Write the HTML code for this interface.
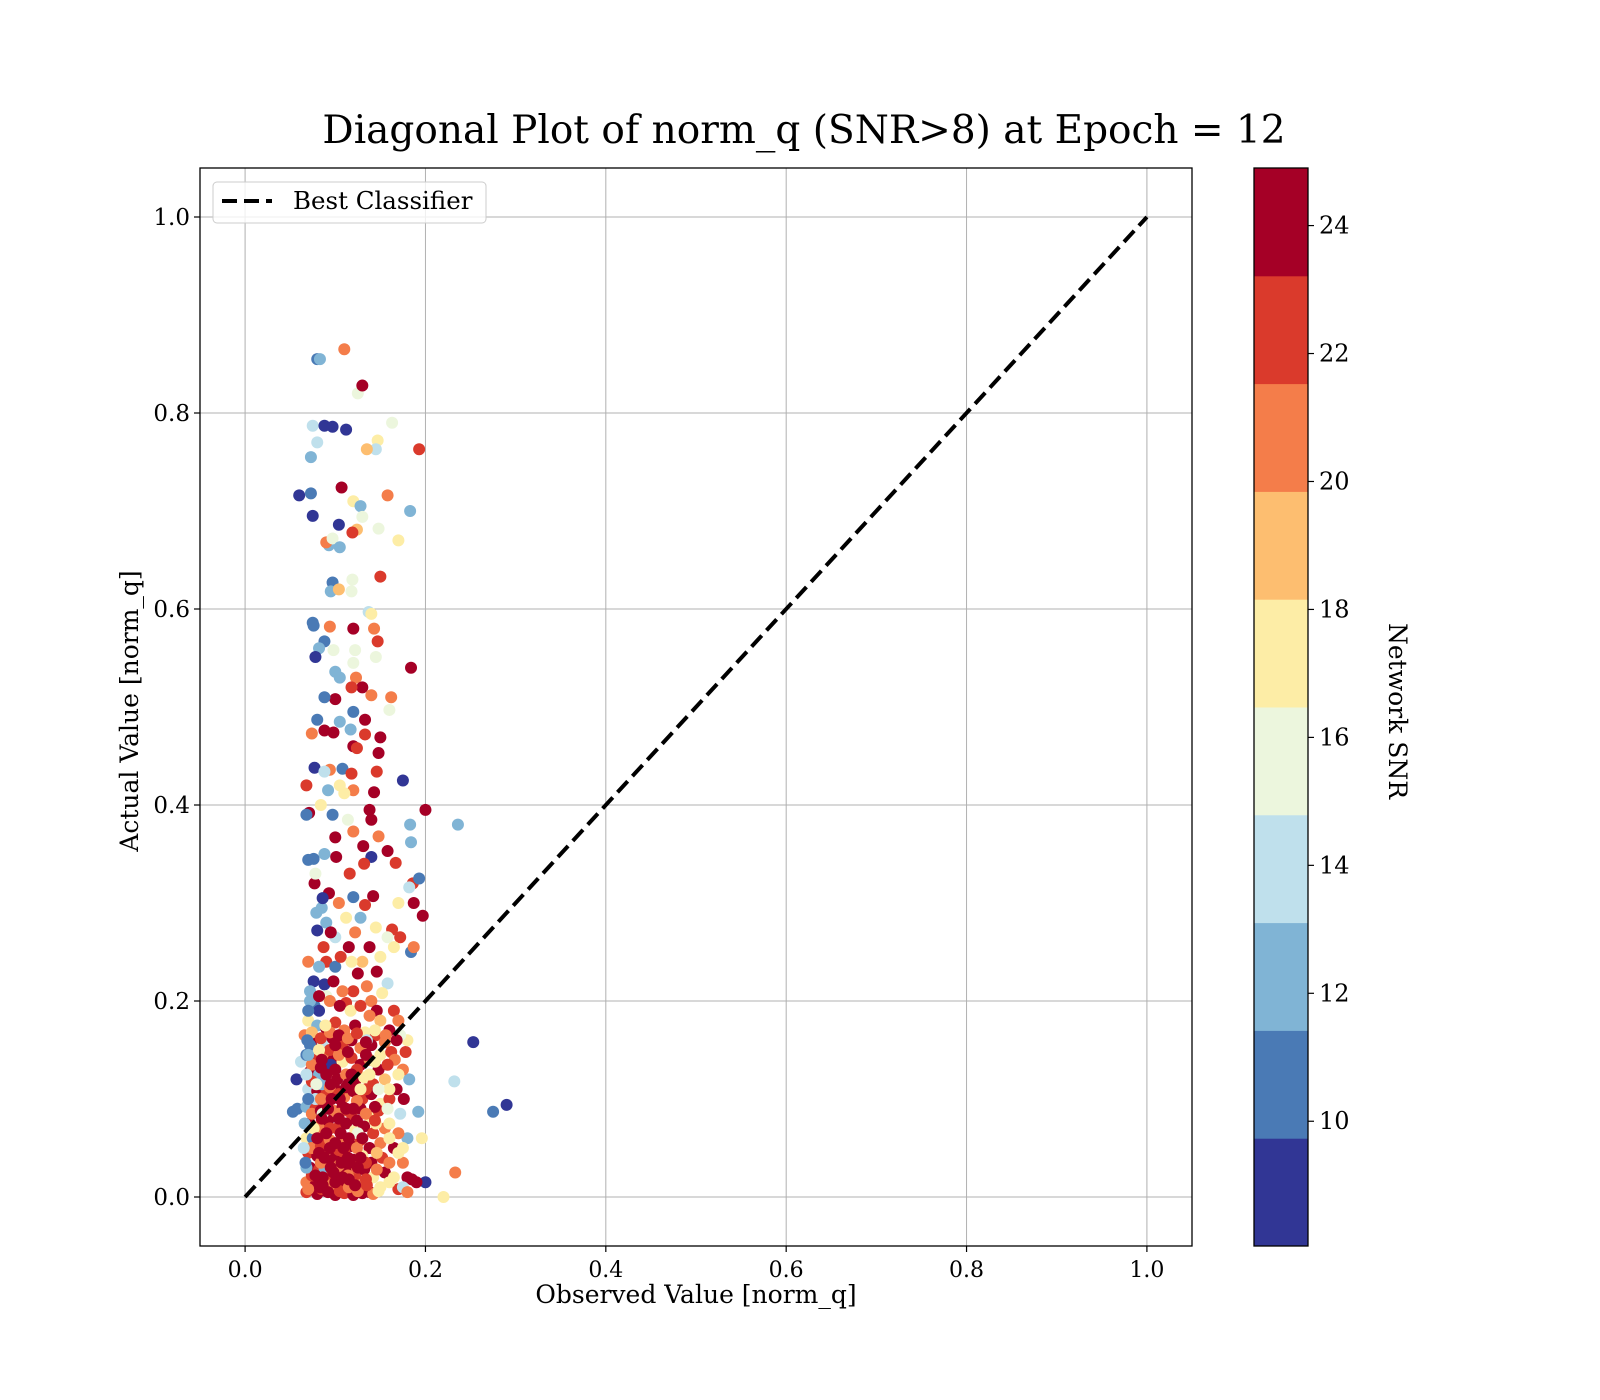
<!DOCTYPE html>
<html><head><meta charset="utf-8"><style>
html,body{margin:0;padding:0;background:#fff;}
svg{display:block;font-family:"DejaVu Serif","Liberation Serif",serif;}
</style></head><body>
<svg id="chart" width="1600" height="1400" viewBox="0 0 1600 1400">
<rect width="1600" height="1400" fill="#fff"/>
<text x="804" y="143" font-size="39" text-anchor="middle">Diagonal Plot of norm_q (SNR&gt;8) at Epoch = 12</text>
<g id="grid"></g>
<g id="pts"></g>
<line id="diag" stroke="#000" stroke-width="4" stroke-dasharray="15,7"/>
<rect x="200" y="168" width="992" height="1078" fill="none" stroke="#000" stroke-width="1.3"/>
<g id="ticks"></g>
<text x="696" y="1303" font-size="25" text-anchor="middle">Observed Value [norm_q]</text>
<text transform="translate(138,711) rotate(-90)" font-size="25" text-anchor="middle">Actual Value [norm_q]</text>
<g>
<rect x="213" y="182" width="273" height="41" rx="4" fill="#fff" fill-opacity="0.8" stroke="#ccc"/>
<line x1="222" y1="201" x2="272" y2="201" stroke="#000" stroke-width="4" stroke-dasharray="15,7"/>
<text x="293" y="209" font-size="24.5">Best Classifier</text>
</g>
<g id="cbar"></g>
<text transform="translate(1389,711) rotate(90)" font-size="25" text-anchor="middle">Network SNR</text>
</svg>
<script>
const xTicks=[0,0.2,0.4,0.6,0.8,1.0];
const yTicks=[0,0.2,0.4,0.6,0.8,1.0];
const cbTicks=[10,12,14,16,18,20,22,24];
const cbColors=["#313695","#4a7ab5","#80b4d5","#bfe0ec","#ecf6dd","#fdeda6","#fdbe70","#f47d4a","#da3a2c","#a50026"];
const snrMin=8.05, snrMax=24.9;
const points=[
[0.08,0.855,10],[0.083,0.855,12],[0.11,0.865,20],[0.125,0.82,16],[0.13,0.828,24],[0.163,0.79,16],[0.075,0.787,14],[0.088,0.787,8],[0.097,0.786,8],[0.112,0.783,8],
[0.08,0.77,14],[0.147,0.772,17],[0.145,0.763,14],[0.135,0.763,19],[0.193,0.763,22],[0.073,0.755,13],[0.107,0.724,24],[0.06,0.716,8],[0.073,0.718,10],[0.158,0.716,20],
[0.12,0.71,17],[0.128,0.705,12],[0.183,0.7,12],[0.075,0.695,8],[0.13,0.694,16],[0.104,0.686,8],[0.148,0.682,16],[0.124,0.681,19],[0.119,0.678,22],[0.093,0.665,12],
[0.09,0.668,20],[0.097,0.672,16],[0.17,0.67,18],[0.105,0.663,13],[0.15,0.633,22],[0.097,0.627,10],[0.119,0.63,15],[0.095,0.618,12],[0.118,0.618,16],[0.104,0.62,19],
[0.137,0.597,14],[0.14,0.595,17],[0.075,0.586,10],[0.076,0.583,10],[0.094,0.582,20],[0.12,0.58,24],[0.143,0.58,20],[0.088,0.567,10],[0.147,0.567,22],[0.082,0.56,12],
[0.098,0.558,16],[0.122,0.558,15],[0.078,0.551,8],[0.145,0.551,16],[0.184,0.54,24],[0.12,0.545,16],[0.1,0.536,12],[0.105,0.53,12],[0.123,0.53,20],[0.13,0.52,24],
[0.118,0.52,22],[0.162,0.51,21],[0.1,0.508,24],[0.14,0.512,20],[0.088,0.51,10],[0.12,0.495,10],[0.16,0.497,16],[0.105,0.485,12],[0.08,0.487,10],[0.133,0.487,24],
[0.074,0.473,20],[0.088,0.476,24],[0.098,0.474,24],[0.117,0.477,12],[0.15,0.469,24],[0.133,0.472,22],[0.12,0.46,24],[0.124,0.458,22],[0.148,0.453,24],[0.077,0.438,8],
[0.094,0.436,20],[0.108,0.437,10],[0.118,0.432,22],[0.146,0.434,22],[0.088,0.434,14],[0.175,0.425,8],[0.068,0.42,22],[0.092,0.415,12],[0.105,0.42,18],[0.12,0.415,20],
[0.143,0.413,24],[0.11,0.412,17],[0.084,0.4,18],[0.138,0.395,24],[0.2,0.395,24],[0.236,0.38,12],[0.183,0.38,12],[0.097,0.39,10],[0.071,0.392,24],[0.068,0.39,10],
[0.114,0.385,16],[0.14,0.385,24],[0.12,0.373,20],[0.1,0.367,24],[0.148,0.368,20],[0.184,0.362,12],[0.131,0.358,24],[0.158,0.353,24],[0.088,0.35,12],[0.101,0.347,24],
[0.076,0.345,10],[0.07,0.344,10],[0.14,0.347,8],[0.167,0.341,22],[0.132,0.34,22],[0.116,0.33,22],[0.186,0.32,22],[0.193,0.325,10],[0.182,0.316,14],[0.077,0.32,24],
[0.093,0.31,24],[0.12,0.306,10],[0.142,0.307,24],[0.187,0.3,24],[0.133,0.298,22],[0.17,0.3,17],[0.197,0.287,24],[0.085,0.295,12],[0.079,0.29,13],[0.112,0.285,18],
[0.09,0.28,12],[0.163,0.273,22],[0.08,0.272,8],[0.122,0.27,20],[0.172,0.265,22],[0.1,0.265,14],[0.184,0.25,10],[0.187,0.255,21],[0.165,0.255,18],[0.138,0.255,24],
[0.115,0.255,24],[0.087,0.255,22],[0.07,0.24,20],[0.09,0.24,22],[0.1,0.235,10],[0.13,0.24,19],[0.158,0.218,14],[0.146,0.23,24],[0.076,0.22,8],[0.088,0.217,8],
[0.098,0.22,24],[0.12,0.21,22],[0.14,0.2,20],[0.165,0.19,22],[0.253,0.158,8],[0.29,0.094,8],[0.275,0.087,10],[0.232,0.118,14],[0.233,0.025,20],[0.22,0.0,18],
[0.2,0.015,8],[0.196,0.06,18],[0.057,0.12,8],[0.053,0.087,10],[0.058,0.09,10],[0.062,0.138,14],[0.192,0.087,13],[0.178,0.148,22],[0.18,0.16,18],[0.182,0.12,12],
[0.078,0.33,16],[0.086,0.305,8],[0.104,0.3,20],[0.128,0.285,12],[0.145,0.275,18],[0.158,0.265,16],[0.095,0.27,24],[0.106,0.245,22],[0.118,0.24,18],[0.15,0.245,17],
[0.082,0.235,12],[0.125,0.228,24],[0.135,0.215,21],[0.108,0.21,20],[0.09,0.205,16],[0.152,0.208,18],[0.077,0.195,10],[0.112,0.198,22],[0.146,0.19,24],[0.17,0.18,20],
[0.072,0.2,12],[0.082,0.19,8],[0.094,0.2,20],[0.105,0.195,24],[0.117,0.19,18],[0.128,0.195,22],[0.138,0.185,21],[0.15,0.18,19],[0.16,0.17,24],[0.172,0.165,16],
[0.07,0.18,18],[0.08,0.175,12],[0.09,0.172,24],[0.1,0.178,22],[0.11,0.17,20],[0.122,0.175,24],[0.133,0.168,17],[0.145,0.165,22],[0.155,0.158,20],[0.168,0.16,24],
[0.066,0.165,21],[0.076,0.16,24],[0.086,0.158,14],[0.097,0.162,24],[0.108,0.155,22],[0.118,0.16,24],[0.128,0.152,20],[0.14,0.155,24],[0.15,0.145,18],[0.162,0.148,22],
[0.068,0.145,10],[0.078,0.14,22],[0.088,0.145,20],[0.098,0.14,24],[0.108,0.138,18],[0.118,0.142,22],[0.128,0.135,24],[0.138,0.14,20],[0.148,0.13,24],[0.175,0.13,20],
[0.072,0.128,24],[0.082,0.125,12],[0.092,0.128,22],[0.102,0.12,24],[0.112,0.125,20],[0.122,0.118,24],[0.132,0.122,17],[0.142,0.115,22],[0.155,0.12,19],[0.168,0.11,24],
[0.07,0.11,14],[0.08,0.108,24],[0.09,0.105,22],[0.1,0.11,24],[0.11,0.102,21],[0.12,0.108,24],[0.13,0.1,22],[0.14,0.105,24],[0.15,0.095,18],[0.16,0.1,22],
[0.068,0.092,12],[0.078,0.09,22],[0.088,0.095,24],[0.098,0.088,20],[0.108,0.092,24],[0.118,0.085,22],[0.128,0.09,24],[0.138,0.082,18],[0.148,0.088,22],[0.172,0.085,14],
[0.072,0.075,24],[0.082,0.072,20],[0.092,0.078,24],[0.102,0.07,22],[0.112,0.075,24],[0.122,0.068,17],[0.132,0.072,24],[0.142,0.065,22],[0.155,0.07,20],[0.18,0.06,12],
[0.068,0.06,18],[0.078,0.058,24],[0.088,0.062,22],[0.098,0.055,24],[0.108,0.06,20],[0.118,0.052,24],[0.128,0.058,22],[0.138,0.05,24],[0.15,0.055,21],[0.165,0.05,24],
[0.07,0.045,22],[0.08,0.042,24],[0.09,0.048,20],[0.1,0.04,24],[0.11,0.045,22],[0.12,0.038,24],[0.13,0.042,18],[0.14,0.035,24],[0.152,0.04,22],[0.175,0.035,20],
[0.072,0.03,24],[0.082,0.028,22],[0.092,0.032,24],[0.102,0.025,20],[0.112,0.03,24],[0.122,0.022,22],[0.132,0.028,24],[0.142,0.02,17],[0.155,0.025,24],[0.18,0.02,24],
[0.068,0.015,20],[0.078,0.012,24],[0.088,0.018,24],[0.098,0.01,22],[0.108,0.015,24],[0.118,0.008,24],[0.128,0.012,21],[0.138,0.005,24],[0.15,0.01,18],[0.17,0.008,22],
[0.068,0.005,22],[0.08,0.003,24],[0.09,0.006,24],[0.1,0.002,24],[0.11,0.004,22],[0.12,0.002,24],[0.13,0.004,24],[0.142,0.003,20],[0.185,0.018,24],[0.19,0.015,24],
[0.075,0.06,10],[0.085,0.115,13],[0.095,0.135,8],[0.078,0.1,14],[0.088,0.03,12],[0.072,0.155,10],[0.125,0.065,16],[0.135,0.16,14],[0.145,0.075,18],[0.158,0.09,16],
[0.074,0.168,19],[0.084,0.162,22],[0.094,0.168,21],[0.104,0.165,24],[0.114,0.162,20],[0.124,0.167,22],[0.134,0.158,24],[0.144,0.17,18],[0.156,0.165,21],[0.166,0.14,20],
[0.074,0.135,20],[0.084,0.132,24],[0.094,0.15,22],[0.104,0.145,21],[0.114,0.148,24],[0.124,0.13,22],[0.134,0.145,24],[0.144,0.138,17],[0.158,0.135,22],[0.17,0.125,18],
[0.074,0.118,22],[0.084,0.1,20],[0.094,0.112,21],[0.104,0.105,22],[0.114,0.115,24],[0.124,0.098,20],[0.134,0.11,22],[0.144,0.092,24],[0.16,0.11,17],[0.176,0.1,24],
[0.074,0.085,21],[0.084,0.088,24],[0.094,0.07,22],[0.104,0.085,21],[0.114,0.088,22],[0.124,0.078,24],[0.134,0.085,20],[0.144,0.078,22],[0.16,0.075,18],[0.17,0.065,20],
[0.074,0.05,20],[0.084,0.052,22],[0.094,0.058,21],[0.104,0.048,22],[0.114,0.04,24],[0.124,0.05,20],[0.134,0.035,22],[0.146,0.045,19],[0.16,0.035,20],[0.17,0.045,18],
[0.074,0.022,22],[0.084,0.035,21],[0.094,0.02,22],[0.104,0.032,21],[0.114,0.022,20],[0.124,0.03,21],[0.134,0.018,22],[0.146,0.028,20],[0.16,0.015,18],[0.175,0.01,14],
[0.07,0.008,21],[0.085,0.008,22],[0.095,0.012,20],[0.105,0.006,22],[0.115,0.01,21],[0.125,0.006,20],[0.135,0.012,22],[0.148,0.006,18],[0.165,0.02,17],[0.18,0.005,20],
[0.068,0.03,12],[0.07,0.1,10],[0.066,0.075,13],[0.068,0.125,14],[0.07,0.19,10],[0.072,0.21,12],[0.065,0.05,14],[0.067,0.035,10],[0.069,0.16,11],[0.07,0.145,13],
[0.076,0.07,18],[0.079,0.115,16],[0.082,0.15,18],[0.086,0.085,16],[0.089,0.175,17],[0.128,0.11,18],[0.138,0.125,17],[0.148,0.11,16],[0.16,0.06,17],[0.175,0.05,18],
[0.082,0.205,24],[0.092,0.09,24],[0.095,0.115,24],[0.105,0.1,24],[0.085,0.08,24],[0.1,0.13,24],[0.112,0.112,24],[0.115,0.06,24],[0.094,0.05,24],[0.086,0.02,24],
[0.098,0.025,24],[0.107,0.035,24],[0.115,0.018,24],[0.083,0.01,24],[0.09,0.065,24],[0.104,0.08,24],[0.125,0.03,24],[0.13,0.06,24],[0.12,0.09,24],[0.109,0.05,24],
[0.078,0.022,24],[0.082,0.045,24],[0.088,0.04,24],[0.095,0.03,24],[0.1,0.055,24],[0.106,0.065,24],[0.112,0.09,24],[0.118,0.125,24],[0.096,0.1,24],[0.09,0.125,24],
[0.08,0.06,24],[0.086,0.012,24],[0.092,0.005,24],[0.1,0.015,24],[0.108,0.02,24],[0.116,0.035,24],[0.122,0.012,24],[0.128,0.04,24],[0.085,0.14,24],[0.1,0.155,24]
];
const X0=200,X1=1192,Y0=168,Y1=1246,DMIN=-0.05,DMAX=1.05;
const sx=v=>X0+(v-DMIN)/(DMAX-DMIN)*(X1-X0);
const sy=v=>Y1-(v-DMIN)/(DMAX-DMIN)*(Y1-Y0);
const CB0=168,CB1=1246;
const cy=v=>CB1-(v-snrMin)/(snrMax-snrMin)*(CB1-CB0);
const colorFor=s=>{let i=Math.floor((s-snrMin)/(snrMax-snrMin)*cbColors.length);i=Math.max(0,Math.min(cbColors.length-1,i));return cbColors[i];};
const NS="http://www.w3.org/2000/svg";
function mk(tag,attrs,parent){const e=document.createElementNS(NS,tag);for(const k in attrs)e.setAttribute(k,attrs[k]);parent.appendChild(e);return e;}
const grid=document.getElementById('grid'),ticks=document.getElementById('ticks');
xTicks.forEach(t=>{const x=sx(t);
 const g=mk('line',{x1:x,x2:x,y1:Y0,y2:Y1,stroke:'#b0b0b0','stroke-width':1},grid);
 
 
 const tk=mk('line',{x1:x,x2:x,y1:Y1,y2:Y1+6,stroke:'#000','stroke-width':1.2},ticks);
 
 
 const lb=mk('text',{x:x,y:Y1+31,'font-size':22,'text-anchor':'middle'},ticks);lb.textContent=t.toFixed(1);
 
 
});
yTicks.forEach(t=>{const y=sy(t);
 const g=mk('line',{x1:X0,x2:X1,y1:y,y2:y,stroke:'#b0b0b0','stroke-width':1},grid);
 
 
 const tk=mk('line',{x1:X0-6,x2:X0,y1:y,y2:y,stroke:'#000','stroke-width':1.2},ticks);
 
 
 const lb=mk('text',{x:X0-10,y:y+8,'font-size':23,'text-anchor':'end'},ticks);lb.textContent=t.toFixed(1);
 
 
});
const pg=document.getElementById('pts');
points.forEach(p=>{
 const c=mk('circle',{cx:sx(p[0]),cy:sy(p[1]),r:6,fill:colorFor(p[2])},pg);
 
 
});
const d=document.getElementById('diag');
d.setAttribute('x1',sx(0));d.setAttribute('y1',sy(0));d.setAttribute('x2',sx(1));d.setAttribute('y2',sy(1));
const cb=document.getElementById('cbar');
cbColors.forEach((col,i)=>{
 const lo=snrMin+i*(snrMax-snrMin)/cbColors.length,hi=snrMin+(i+1)*(snrMax-snrMin)/cbColors.length;
 const r=mk('rect',{x:1254,y:cy(hi),width:54,height:cy(lo)-cy(hi)+0.5,fill:col},cb);
 
 
});
const fr=mk('rect',{x:1254,y:CB0,width:54,height:CB1-CB0,fill:'none',stroke:'#000','stroke-width':1.3},cb);


cbTicks.forEach(t=>{const y=cy(t);
 const tk=mk('line',{x1:1308,x2:1314,y1:y,y2:y,stroke:'#000','stroke-width':1.2},cb);
 
 
 const lb=mk('text',{x:1319,y:y+8,'font-size':24},cb);lb.textContent=t;
 
 
});
</script>
</body></html>
